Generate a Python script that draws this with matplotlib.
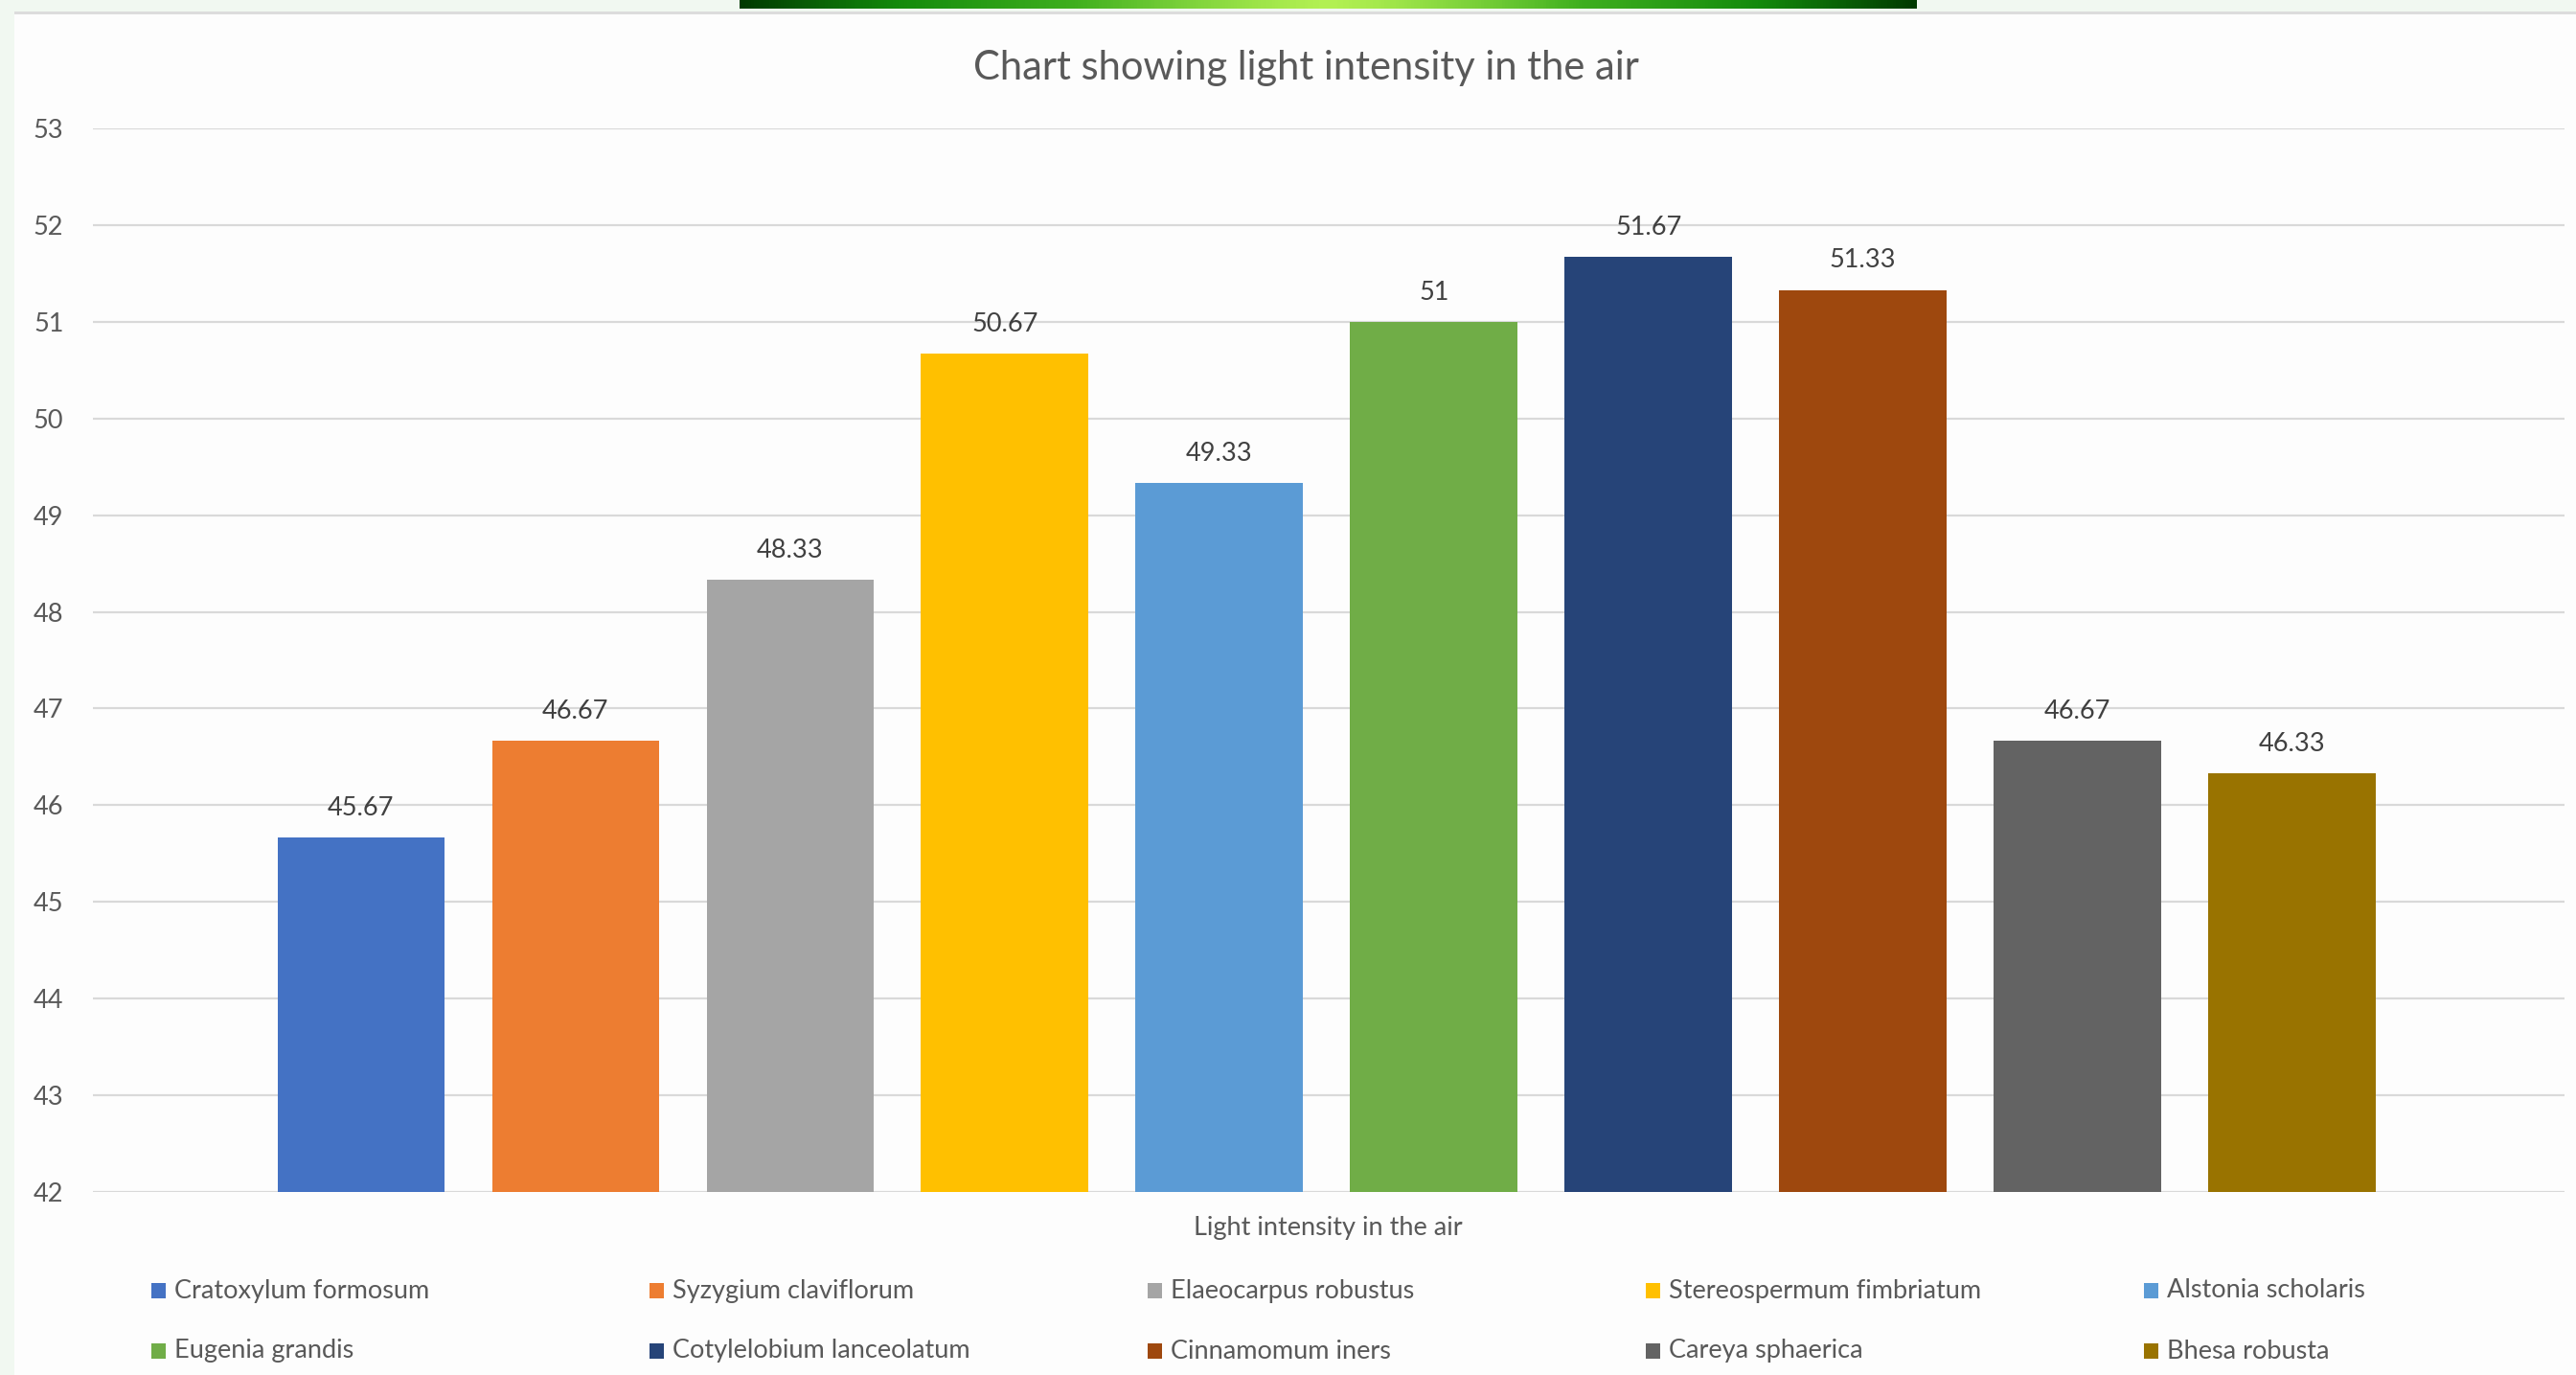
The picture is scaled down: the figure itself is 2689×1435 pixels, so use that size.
import numpy as np
import matplotlib
matplotlib.use("Agg")
import matplotlib.pyplot as plt
from matplotlib.patches import Rectangle
from matplotlib.colors import LinearSegmentedColormap

plt.rcParams['font.family'] = ['Lato', 'DejaVu Sans']

# Species and measured light intensity
species = [
    "Cratoxylum formosum", "Syzygium claviflorum", "Elaeocarpus robustus",
    "Stereospermum fimbriatum", "Alstonia scholaris", "Eugenia grandis",
    "Cotylelobium lanceolatum", "Cinnamomum iners", "Careya sphaerica",
    "Bhesa robusta",
]
values = [45.67, 46.67, 48.33, 50.67, 49.33, 51.0, 51.67, 51.33, 46.67, 46.33]
value_labels = ["45.67", "46.67", "48.33", "50.67", "49.33", "51", "51.67", "51.33", "46.67", "46.33"]
colors = ["#4472C4", "#ED7D31", "#A5A5A5", "#FFC000", "#5B9BD5",
          "#70AD47", "#264478", "#9E480E", "#636363", "#997300"]
y_ticks = list(range(42, 54))

W, H = 2689, 1435
fig = plt.figure(figsize=(W / 100, H / 100), dpi=100)
fig.patch.set_facecolor("#F1F8F1")

# White card behind the chart with a thin shadow along the top
fig.patches.append(Rectangle((15 / W, 0), 1, 1 - 12 / H, transform=fig.transFigure,
                             facecolor="#DCDCDC", edgecolor="none", zorder=-3))
fig.patches.append(Rectangle((15 / W, 0), 1, 1 - 15 / H, transform=fig.transFigure,
                             facecolor="#FDFDFD", edgecolor="none", zorder=-2))

# Green gradient banner at the top
bax = fig.add_axes([772 / W, 1 - 9 / H, (2001 - 772) / W, 9 / H])
t = np.linspace(-1, 1, 400)
grad = 1 - np.abs(t) ** 1.3
gcm = LinearSegmentedColormap.from_list("banner", ["#013A01", "#138A0C", "#3FAF1F", "#B2F052"])
bax.imshow(grad[None, :], aspect="auto", cmap=gcm, extent=[0, 1, 0, 1])
bax.axis("off")

# Main plot area
ax = fig.add_axes([97 / W, 1 - 1244 / H, (2677 - 97) / W, (1244 - 134) / H])
ax.set_facecolor("none")
x = np.arange(len(values))
ax.bar(x, [v - 42 for v in values], bottom=42, width=0.78, color=colors, zorder=3)
ax.set_xlim(4.51 - 5.76, 4.51 + 5.76)
ax.set_ylim(42, 53)
ax.set_yticks(y_ticks)
ax.set_xticks([])
ax.grid(axis="y", color="#D9D9D9", linewidth=1.6, zorder=0)
for s in ax.spines.values():
    s.set_visible(False)
ax.tick_params(axis="y", length=0, pad=22, labelsize=19.5, labelcolor="#595959")

for xi, v, lab in zip(x, values, value_labels):
    ax.annotate(lab, (xi, v), xytext=(0, 22), textcoords="offset points",
                ha="center", va="center", fontsize=19.5, color="#404040")

fig.text(1363 / W, 1 - 71 / H, "Chart showing light intensity in the air",
         ha="center", va="center", fontsize=30, color="#595959")
fig.text(1386 / W, 1 - 1282 / H, "Light intensity in the air",
         ha="center", va="center", fontsize=19.5, color="#595959")

# Legend laid out in a 5 x 2 grid
for i, (name, c) in enumerate(zip(species, colors)):
    row, col = divmod(i, 5)
    xl = 158 + col * 520
    yc = 1347 + row * 63
    fig.patches.append(Rectangle((xl / W, 1 - (yc + 8) / H), 15 / W, 16 / H,
                                 transform=fig.transFigure, facecolor=c,
                                 edgecolor="none", zorder=3))
    fig.text((xl + 24) / W, 1 - yc / H, name, ha="left", va="center",
             fontsize=19.5, color="#595959")

fig.savefig("out.png", dpi=100, facecolor=fig.get_facecolor())
